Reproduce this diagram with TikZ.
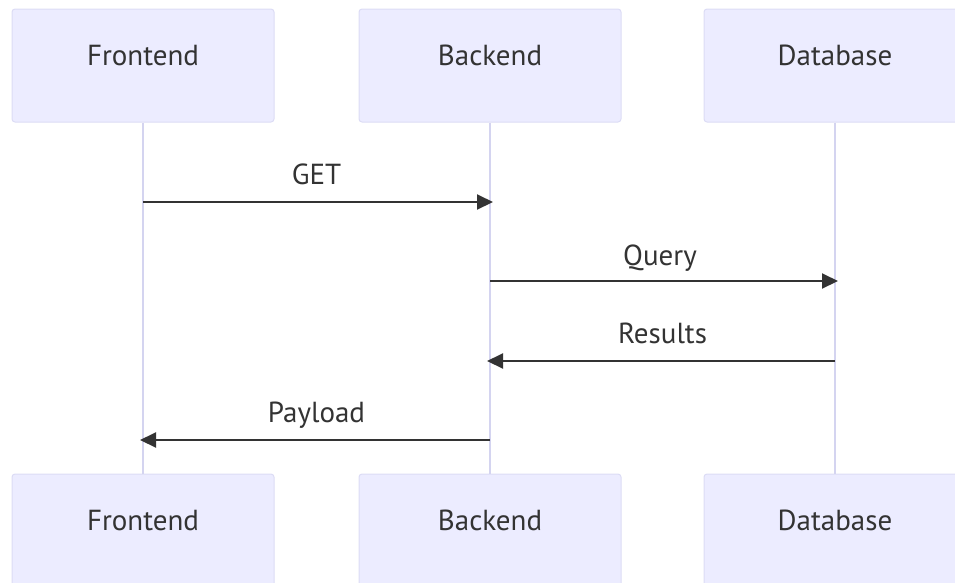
\documentclass[tikz,border=0pt]{standalone}
\usepackage{fontspec}
\setmainfont{PT Sans}
\usetikzlibrary{arrows.meta}
\definecolor{boxfill}{HTML}{ECECFF}
\definecolor{boxline}{HTML}{DCDCF5}
\definecolor{lifeline}{HTML}{D4D4F0}
\definecolor{msg}{HTML}{333333}
\tikzset{
  actor/.style={draw=boxline, fill=boxfill, line width=1pt, rounded corners=3pt,
    minimum width=262pt, minimum height=113pt, inner sep=0pt},
  actorlabel/.style={font=\fontsize{29}{34}\selectfont, text=msg, inner sep=0pt,
    text height=0.72em, text depth=0.22em},
  life/.style={draw=lifeline, line width=1.5pt},
  msgline/.style={draw=msg, line width=2pt, -{Triangle[length=16pt,width=15pt]}},
  msglabel/.style={font=\fontsize{29}{34}\selectfont, text=msg, inner sep=0pt,
    text height=0.72em, text depth=0.22em}
}
\begin{document}
\begin{tikzpicture}[x=1pt,y=-1pt]
\useasboundingbox (0,0) rectangle (955,582);
\clip (0,0) rectangle (955,582);
% top actors
\node[actor] (ft) at (143,65.5) {};
\node[actor] (bt) at (490,65.5) {};
\node[actor] (dt) at (835,65.5) {};
\node[actorlabel] (ftl) at (143,63) {Frontend};
\node[actorlabel] (btl) at (490,63) {Backend};
\node[actorlabel] (dtl) at (835,63) {Database};
% bottom actors
\node[actor] (fb) at (143,530.5) {};
\node[actor] (bb) at (490,530.5) {};
\node[actor] (db) at (835,530.5) {};
\node[actorlabel] (fbl) at (143,528) {Frontend};
\node[actorlabel] (bbl) at (490,528) {Backend};
\node[actorlabel] (dbl) at (835,528) {Database};
% lifelines
\draw[life] (ft.south) -- (fb.north);
\draw[life] (bt.south) -- (bb.north);
\draw[life] (dt.south) -- (db.north);
% message anchor points
\coordinate (f1) at (143,202); \coordinate (b1) at (493,202);
\coordinate (b2) at (490,281); \coordinate (d2) at (838,281);
\coordinate (d3) at (835,361); \coordinate (b3) at (487,361);
\coordinate (b4) at (490,440); \coordinate (f4) at (140,440);
\draw[msgline] (f1) -- (b1);
\draw[msgline] (b2) -- (d2);
\draw[msgline] (d3) -- (b3);
\draw[msgline] (b4) -- (f4);
\node[msglabel] (l1) at (316.5,182) {GET};
\node[msglabel] (l2) at (660,263) {Query};
\node[msglabel] (l3) at (662.5,341) {Results};
\node[msglabel] (l4) at (316.5,420) {Payload};
\end{tikzpicture}
\end{document}
